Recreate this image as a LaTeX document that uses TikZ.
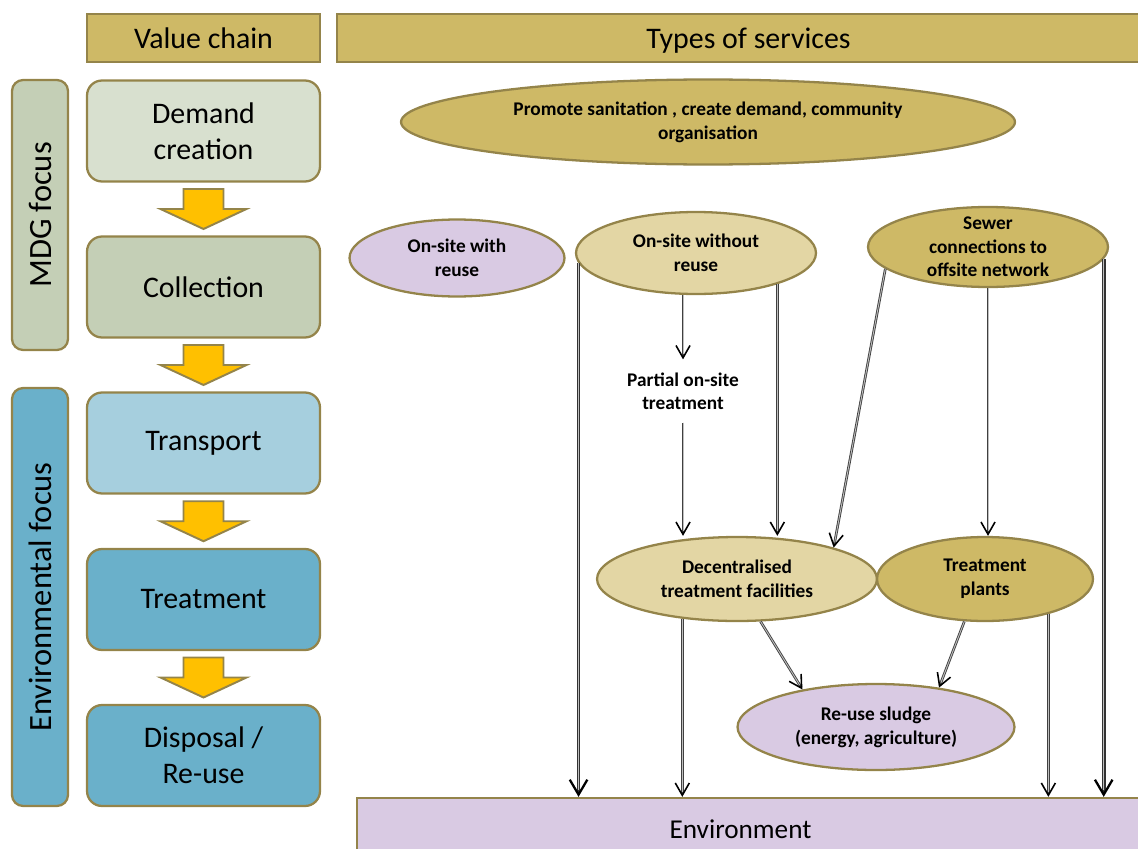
\documentclass[tikz,border=0pt]{standalone}
\usepackage{fontspec}
\setmainfont{Carlito}
\usetikzlibrary{shapes.geometric,arrows.meta,calc}

\definecolor{gold}{RGB}{206,185,102}
\definecolor{paleGold}{RGB}{227,214,164}
\definecolor{rim}{RGB}{148,132,74}
\definecolor{lilac}{RGB}{217,202,227}
\definecolor{sage}{RGB}{216,224,207}
\definecolor{sageDark}{RGB}{196,207,182}
\definecolor{skyLight}{RGB}{166,207,222}
\definecolor{sky}{RGB}{106,176,202}
\definecolor{amber}{RGB}{255,192,0}

\tikzset{
  head/.style={draw=rim, fill=gold, line width=1.3pt, minimum height=0.96cm,
    text height=15.5pt, text depth=3.5pt, font=\fontsize{17}{20}\selectfont},
  chain/.style={draw=rim, line width=1.3pt, rounded corners=0.3cm, minimum width=4.66cm,
    minimum height=2.02cm, align=center, font=\fontsize{17}{20.5}\selectfont},
  focus/.style={draw=rim, line width=1.3pt, rounded corners=0.22cm, rotate=90,
    minimum height=1.12cm, font=\fontsize{18.5}{20}\selectfont},
  svc/.style={ellipse, draw=rim, line width=1.3pt, inner sep=0pt, align=center,
    font=\bfseries\fontsize{11}{13.5}\selectfont},
  flow/.style={draw=black!75, line width=1.5pt,
    -{Straight Barb[length=7pt,width=8pt,line width=0.9pt,color=black]},
    postaction={draw=black!25, line width=0.5pt, -, shorten >=3pt}},
  mainflow/.style={draw=black!80, line width=2.1pt,
    -{Straight Barb[length=8.5pt,width=10pt,line width=1.3pt,color=black]},
    postaction={draw=black!25, line width=0.8pt, -, shorten >=4pt}},
  block/.style={draw=rim, fill=amber, line width=1.1pt, line join=miter}
}

\begin{document}
\begin{tikzpicture}[x=0.02cm, y=-0.02cm]
  \useasboundingbox (0,0) rectangle (1138,848);

  % headers
  \node[head, minimum width=4.66cm] (vc) at (203.5,38) {Value chain};
  \node[head, minimum width=16.46cm] (ts) at (748.5,38) {Types of services};

  % focus bars
  \node[focus, fill=sageDark, minimum width=5.4cm] (mdg) at (40,215) {MDG focus};
  \node[focus, fill=sky, minimum width=8.36cm] (envf) at (40,597) {Environmental focus};

  % value chain
  \node[chain, fill=sage] (dem) at (203.5,131) {Demand\\creation};
  \node[chain, fill=sageDark] (col) at (203.5,287) {Collection};
  \node[chain, fill=skyLight] (tra) at (203.5,443) {Transport};
  \node[chain, fill=sky] (trt) at (203.5,599.5) {Treatment};
  \node[chain, fill=sky] (dis) at (203.5,755.5) {Disposal /\\Re-use};

  % block arrows between the stages
  \foreach \a/\b in {dem/col,col/tra,tra/trt,trt/dis}
    \draw[block] ($(\a.south)!.5!(\b.north)$) ++(-20,-20) -- ++(40,0) -- ++(0,20)
      -- ++(23,0) -- ++(-43,20) -- ++(-43,-20) -- ++(23,0) -- cycle;

  % services
  \node[svc, fill=gold, minimum width=12.28cm, minimum height=1.70cm] (prom) at (708,122)
    {Promote sanitation , create demand, community\\organisation};
  \node[svc, fill=lilac, minimum width=4.3cm, minimum height=1.54cm] (osr) at (457,258)
    {On-site with\\reuse};
  \node[svc, fill=paleGold, minimum width=4.8cm, minimum height=1.64cm] (nosr) at (696,253)
    {On-site without\\reuse};
  \node[svc, fill=gold, minimum width=4.8cm, minimum height=1.6cm, inner ysep=-6pt] (sew)
    at (988,247) {Sewer\\connections to\\offsite network};
  \node[font=\bfseries\fontsize{11}{13}\selectfont, align=center, inner sep=0.26cm] (part)
    at (683,391) {Partial on-site\\treatment};
  \node[svc, fill=paleGold, minimum width=5.6cm, minimum height=1.68cm] (dec) at (737,579)
    {Decentralised\\treatment facilities};
  \node[svc, fill=gold, minimum width=4.32cm, minimum height=1.68cm] (tp) at (985,579)
    {Treatment\\plants};
  \node[svc, fill=lilac, minimum width=5.54cm, minimum height=1.72cm] (sl) at (876,727)
    {Re-use sludge\\(energy, agriculture)};
  \node[draw=rim, fill=lilac, line width=1.3pt, minimum width=16.06cm, minimum height=1.24cm,
    label={[font=\fontsize{15.5}{18}\selectfont, xshift=-0.36cm]center:Environment}]
    (env) at (758.5,829) {};

  % flows
  \draw[mainflow] (nosr.185) -- (nosr.185 |- env.north);
  \draw[flow] (nosr.south -| part.north) -- (part.north);
  \draw[flow] (part.south) -- (part.south |- dec.north);
  \draw[flow] (nosr.339) -- (nosr.339 |- dec.north);
  \draw[flow] (sew.192) -- (dec.18);
  \draw[flow] (sew.south) -- (sew.south |- tp.north);
  \draw[mainflow] (sew.354) -- (sew.354 |- env.north);
  \draw[flow] (dec.216) -- (dec.216 |- env.north);
  \draw[flow] (dec.299) -- (sl.153);
  \draw[flow] (tp.244) -- (sl.32);
  \draw[flow] (tp.331) -- (tp.331 |- env.north);
\end{tikzpicture}
\end{document}
